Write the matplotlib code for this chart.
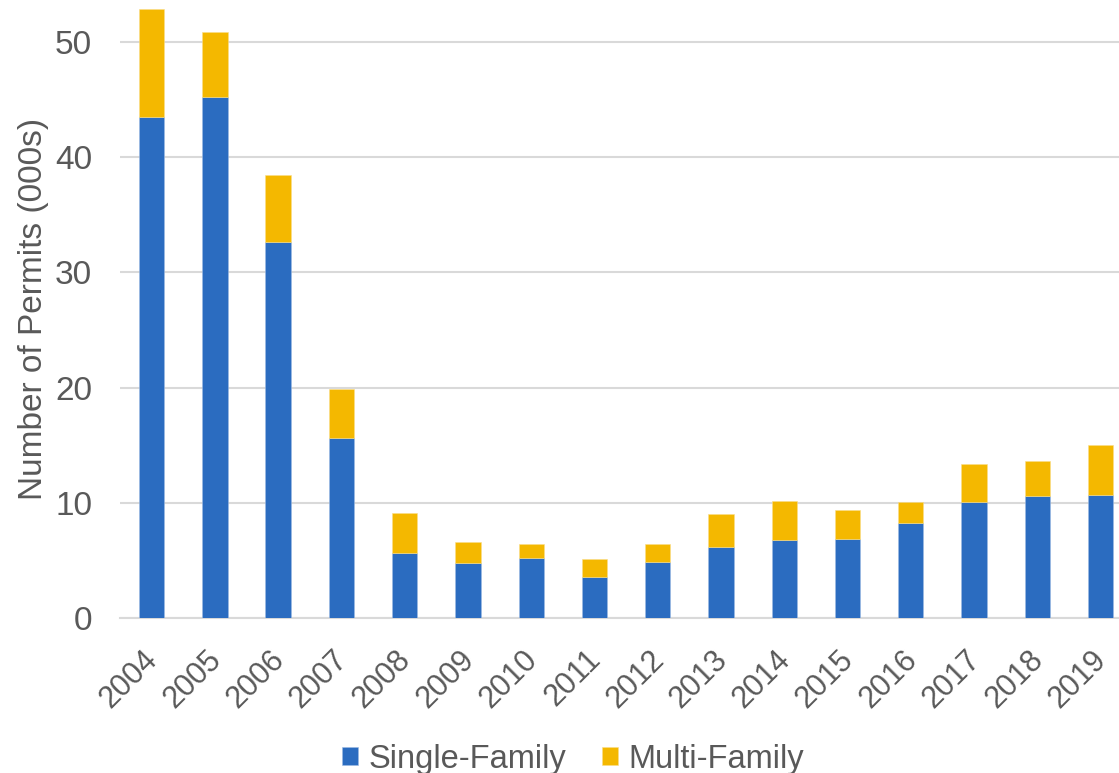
import matplotlib.pyplot as plt
import matplotlib.transforms as mtransforms
import numpy as np

years = ['2004', '2005', '2006', '2007', '2008', '2009', '2010', '2011',
         '2012', '2013', '2014', '2015', '2016', '2017', '2018', '2019']
single_family = [43.5, 45.2, 32.6, 15.6, 5.7, 4.8, 5.2, 3.6,
                 4.9, 6.2, 6.8, 6.9, 8.3, 10.1, 10.6, 10.7]
total = [52.8, 50.8, 38.4, 19.9, 9.1, 6.6, 6.4, 5.1,
         6.4, 9.0, 10.2, 9.4, 10.1, 13.4, 13.6, 15.0]
multi_family = [t - s for t, s in zip(total, single_family)]

plt.rcParams['font.family'] = ['Liberation Sans', 'DejaVu Sans']
gray = '#595959'

fig = plt.figure(figsize=(11.19, 7.73), dpi=100)
ax = fig.add_axes([0.1072, 0.2001, 0.8928, 0.7999])

x = np.arange(len(years))
w = 0.4
ax.bar(x, single_family, w, color='#2B6CC0', label='Single-Family', zorder=3,
       edgecolor='#9dbbe3', linewidth=0.4)
ax.bar(x, multi_family, w, bottom=single_family, color='#F4B800', label='Multi-Family',
       zorder=3, edgecolor='#f9dd8a', linewidth=0.4)

ax.set_xlim(-0.5, 15.29)
ax.set_ylim(0, 53.6)
ax.set_yticks([0, 10, 20, 30, 40, 50])
ax.yaxis.grid(True, color='#d9d9d9', linewidth=1.5, zorder=0)
ax.set_axisbelow(True)
for s in ['top', 'right', 'left']:
    ax.spines[s].set_visible(False)
ax.spines['bottom'].set_color('#d9d9d9')
ax.spines['bottom'].set_linewidth(1.5)

ax.set_xticks(x)
ax.set_xticklabels(years, rotation=45, ha='right', rotation_mode='anchor')
ax.tick_params(axis='both', length=0, labelcolor=gray)
ax.tick_params(axis='y', pad=20, labelsize=24)
ax.tick_params(axis='x', pad=19, labelsize=22)
# nudge the rotated year labels a little to the left
shift = mtransforms.ScaledTranslation(-9 / 100, 0, fig.dpi_scale_trans)
for lab in ax.get_xticklabels():
    lab.set_transform(lab.get_transform() + shift)

ax.set_ylabel('Number of Permits (000s)', fontsize=24, color=gray, labelpad=4)

fig.legend(loc='lower center', bbox_to_anchor=(0.512, -0.04), ncol=2, frameon=False,
           fontsize=23.5, labelcolor=gray, handlelength=0.5, handleheight=0.5,
           handletextpad=0.3, columnspacing=1.1)

fig.savefig('out.png', dpi=100)
